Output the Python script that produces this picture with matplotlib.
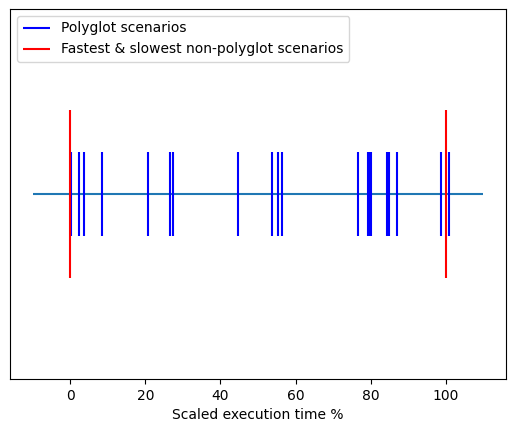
import matplotlib
matplotlib.use("Agg")
import matplotlib.pyplot as plt

# scaled execution times (%)
polyglot_times = [0.15, 2.3, 3.6, 8.4, 20.7, 26.5, 27.4, 44.7, 53.7, 55.3, 56.4,
                  76.7, 79.4, 79.8, 80.2, 84.4, 84.9, 87.0, 98.7, 100.9]
non_polyglot_times = [0, 100]  # fastest & slowest
line_start, line_end = -10, 110

fig = plt.figure(figsize=(5.15, 4.32), dpi=100)
ax = fig.add_axes([10 / 515, 53 / 432, 496 / 515, 370 / 432])

ax.hlines(0, line_start, line_end)
ax.vlines(polyglot_times, -0.5, 0.5, colors='blue', linewidth=1.5, label='Polyglot scenarios')
ax.vlines(non_polyglot_times, -1, 1, colors='red', linewidth=1.5,
          label='Fastest & slowest non-polyglot scenarios')

ax.set_ylim(-2.2, 2.2)
ax.set_yticks([])
ax.set_xlabel('Scaled execution time %')
ax.legend(loc='upper left')

fig.savefig('out.png', dpi=100)
